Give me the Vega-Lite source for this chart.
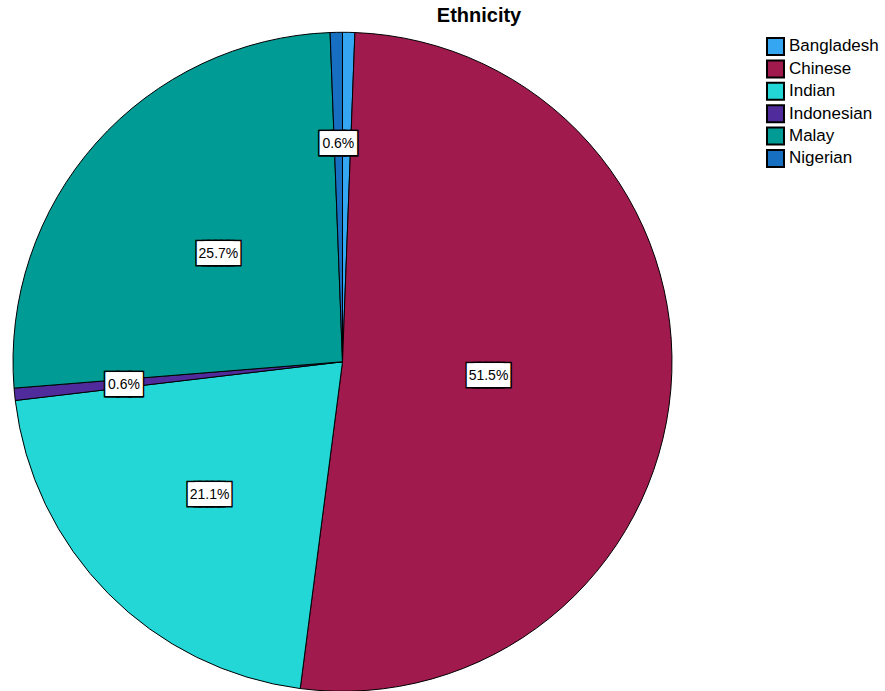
{
  "$schema": "https://vega.github.io/schema/vega-lite/v6.json",
  "width": 685,
  "height": 663.6,
  "autosize": {"type": "none"},
  "padding": {"top": 30, "left": 0, "right": 200, "bottom": 0},
  "background": "white",
  "title": {
    "text": "Ethnicity",
    "font": "Liberation Sans",
    "fontSize": 20,
    "fontWeight": "bold",
    "color": "black",
    "anchor": "middle",
    "dx": 136.5,
    "offset": -12.5,
    "baseline": "alphabetic"
  },
  "config": {"view": {"stroke": null}, "text": {"dy": 2}},
  "data": {
    "values": [
      {"Ethnicity": "Bangladesh", "Share": 0.006},
      {"Ethnicity": "Chinese", "Share": 0.515},
      {"Ethnicity": "Indian", "Share": 0.211},
      {"Ethnicity": "Indonesian", "Share": 0.006},
      {"Ethnicity": "Malay", "Share": 0.257},
      {"Ethnicity": "Nigerian", "Share": 0.006}
    ]
  },
  "encoding": {
    "theta": {"field": "Share", "type": "quantitative", "stack": true},
    "order": {"field": "Ethnicity", "type": "nominal", "sort": "ascending"}
  },
  "layer": [
    {
      "mark": {"type": "arc", "radius": 329.5, "stroke": "black", "strokeWidth": 1},
      "encoding": {
        "color": {
          "field": "Ethnicity",
          "type": "nominal",
          "scale": {
            "domain": ["Bangladesh", "Chinese", "Indian", "Indonesian", "Malay", "Nigerian"],
            "range": ["#35A7F2", "#A01A4E", "#22D7D6", "#4F2B9B", "#009B95", "#176FC1"]
          },
          "legend": {
            "orient": "none",
            "legendX": 766,
            "legendY": 7,
            "title": null,
            "padding": 0,
            "symbolType": "square",
            "symbolSize": 289,
            "symbolStrokeColor": "black",
            "symbolStrokeWidth": 2,
            "symbolOpacity": 1,
            "labelFont": "Liberation Sans",
            "labelFontSize": 17,
            "labelColor": "black",
            "labelOffset": 4,
            "rowPadding": -2.6
          }
        }
      }
    },
    {
      "encoding": {
        "radius": {"value": 146.5},
        "opacity": {"condition": {"test": "datum.Ethnicity === 'Chinese'", "value": 1}, "value": 0}
      },
      "layer": [
        {"mark": {"type": "text", "text": "███", "font": "DejaVu Sans Mono", "fontSize": 20, "align": "center", "baseline": "middle", "fill": "black", "stroke": "black", "strokeWidth": 3, "dx": -3.45}},
        {"mark": {"type": "text", "text": "███", "font": "DejaVu Sans Mono", "fontSize": 20, "align": "center", "baseline": "middle", "fill": "black", "stroke": "black", "strokeWidth": 3, "dx": 3.45}},
        {"mark": {"type": "text", "text": "███", "font": "DejaVu Sans Mono", "fontSize": 20, "align": "center", "baseline": "middle", "fill": "white", "dx": -3.45}},
        {"mark": {"type": "text", "text": "███", "font": "DejaVu Sans Mono", "fontSize": 20, "align": "center", "baseline": "middle", "fill": "white", "dx": 3.45}},
        {"mark": {"type": "text", "font": "Liberation Sans", "fontSize": 14, "align": "center", "baseline": "middle", "fill": "black"},
         "encoding": {"text": {"field": "Share", "type": "quantitative", "format": ".1%"}}}
      ]
    },
    {
      "encoding": {
        "radius": {"value": 166},
        "opacity": {"condition": {"test": "datum.Ethnicity === 'Malay'", "value": 1}, "value": 0}
      },
      "layer": [
        {"mark": {"type": "text", "text": "███", "font": "DejaVu Sans Mono", "fontSize": 20, "align": "center", "baseline": "middle", "fill": "black", "stroke": "black", "strokeWidth": 3, "dx": -3.45}},
        {"mark": {"type": "text", "text": "███", "font": "DejaVu Sans Mono", "fontSize": 20, "align": "center", "baseline": "middle", "fill": "black", "stroke": "black", "strokeWidth": 3, "dx": 3.45}},
        {"mark": {"type": "text", "text": "███", "font": "DejaVu Sans Mono", "fontSize": 20, "align": "center", "baseline": "middle", "fill": "white", "dx": -3.45}},
        {"mark": {"type": "text", "text": "███", "font": "DejaVu Sans Mono", "fontSize": 20, "align": "center", "baseline": "middle", "fill": "white", "dx": 3.45}},
        {"mark": {"type": "text", "font": "Liberation Sans", "fontSize": 14, "align": "center", "baseline": "middle", "fill": "black"},
         "encoding": {"text": {"field": "Share", "type": "quantitative", "format": ".1%"}}}
      ]
    },
    {
      "encoding": {
        "radius": {"value": 187},
        "opacity": {"condition": {"test": "datum.Ethnicity === 'Indian'", "value": 1}, "value": 0}
      },
      "layer": [
        {"mark": {"type": "text", "text": "███", "font": "DejaVu Sans Mono", "fontSize": 20, "align": "center", "baseline": "middle", "fill": "black", "stroke": "black", "strokeWidth": 3, "dx": -3.45}},
        {"mark": {"type": "text", "text": "███", "font": "DejaVu Sans Mono", "fontSize": 20, "align": "center", "baseline": "middle", "fill": "black", "stroke": "black", "strokeWidth": 3, "dx": 3.45}},
        {"mark": {"type": "text", "text": "███", "font": "DejaVu Sans Mono", "fontSize": 20, "align": "center", "baseline": "middle", "fill": "white", "dx": -3.45}},
        {"mark": {"type": "text", "text": "███", "font": "DejaVu Sans Mono", "fontSize": 20, "align": "center", "baseline": "middle", "fill": "white", "dx": 3.45}},
        {"mark": {"type": "text", "font": "Liberation Sans", "fontSize": 14, "align": "center", "baseline": "middle", "fill": "black"},
         "encoding": {"text": {"field": "Share", "type": "quantitative", "format": ".1%"}}}
      ]
    },
    {
      "encoding": {
        "radius": {"value": 219.6},
        "opacity": {"condition": {"test": "datum.Ethnicity === 'Nigerian' || datum.Ethnicity === 'Indonesian'", "value": 1}, "value": 0}
      },
      "layer": [
        {"mark": {"type": "text", "text": "███", "font": "DejaVu Sans Mono", "fontSize": 20, "align": "center", "baseline": "middle", "fill": "black", "stroke": "black", "strokeWidth": 3, "dx": -0.45}},
        {"mark": {"type": "text", "text": "███", "font": "DejaVu Sans Mono", "fontSize": 20, "align": "center", "baseline": "middle", "fill": "black", "stroke": "black", "strokeWidth": 3, "dx": 0.45}},
        {"mark": {"type": "text", "text": "███", "font": "DejaVu Sans Mono", "fontSize": 20, "align": "center", "baseline": "middle", "fill": "white", "dx": -0.45}},
        {"mark": {"type": "text", "text": "███", "font": "DejaVu Sans Mono", "fontSize": 20, "align": "center", "baseline": "middle", "fill": "white", "dx": 0.45}},
        {"mark": {"type": "text", "font": "Liberation Sans", "fontSize": 14, "align": "center", "baseline": "middle", "fill": "black"},
         "encoding": {"text": {"field": "Share", "type": "quantitative", "format": ".1%"}}}
      ]
    }
  ]
}
